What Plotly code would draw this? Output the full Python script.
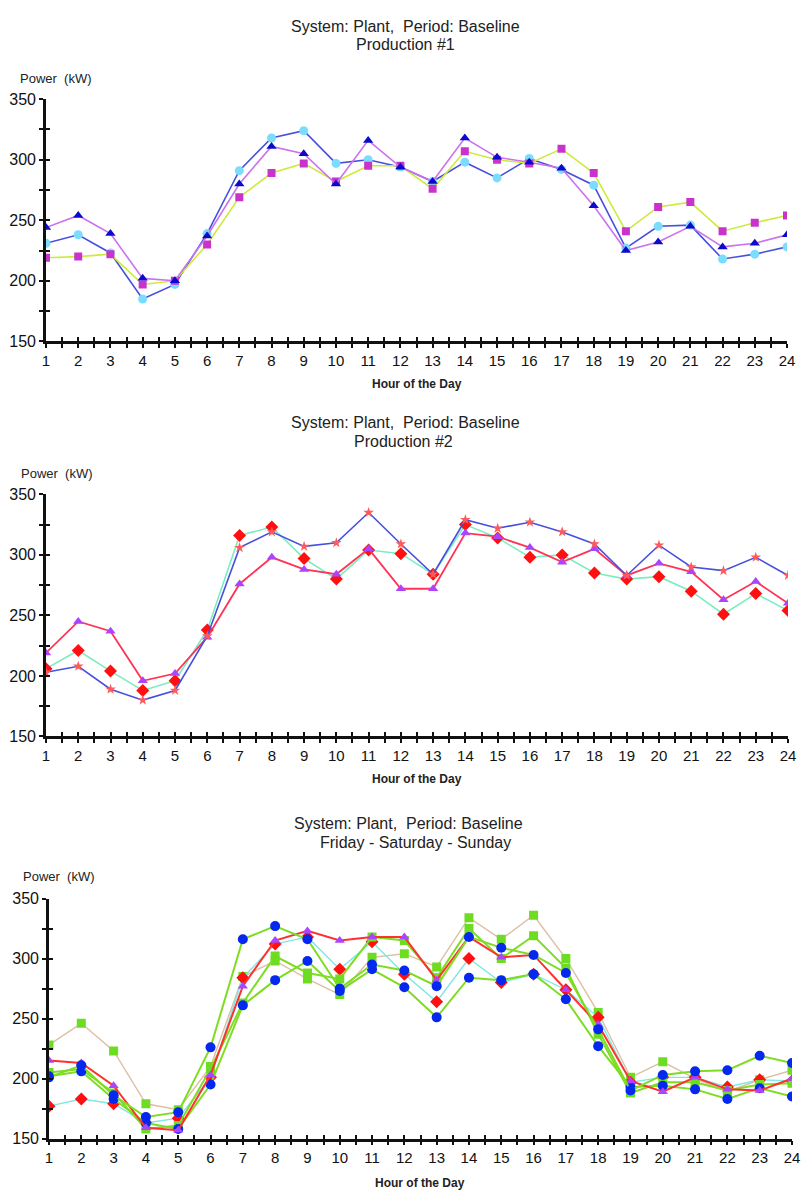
import plotly.graph_objects as go

# ---------------- data ----------------
hours = list(range(1, 25))
hour_labels = [str(h) for h in hours]
y_tick_values = [150, 200, 250, 300, 350]

# Panel 1 : Production #1
p1_triangle = [244, 254, 239, 202, 200, 237, 280, 311, 305, 280, 316, 294,
               282, 318, 302, 298, 293, 262, 225, 232, 245, 228, 231, 238]
p1_square = [219, 220, 222, 197, 200, 230, 269, 289, 297, 282, 295, 295,
             276, 307, 300, 297, 309, 289, 241, 261, 265, 241, 248, 254]
p1_circle = [231, 238, 223, 185, 197, 239, 291, 318, 324, 297, 300, 294,
             282, 298, 285, 301, 292, 279, 227, 245, 246, 218, 222, 228]

# Panel 2 : Production #2
p2_star = [203, 208, 189, 180, 188, 233, 306, 319, 307, 310, 335, 309,
           284, 329, 322, 327, 319, 309, 283, 308, 290, 287, 298, 283]
p2_triangle = [219, 245, 237, 196, 202, 232, 276, 298, 288, 284, 305, 272,
               272, 318, 315, 306, 294, 305, 283, 293, 286, 263, 278, 260]
p2_diamond = [206, 221, 204, 188, 196, 238, 316, 323, 297, 280, 304, 301,
              284, 325, 314, 298, 300, 285, 280, 282, 270, 251, 268, 254]

# Panel 3 : Friday - Saturday - Sunday
p3_square_a = [228, 246, 223, 179, 174, 210, 285, 298, 283, 270, 301, 304,
               293, 334, 316, 336, 300, 255, 201, 214, 200, 189, 199, 207]
p3_square_b = [205, 208, 188, 158, 161, 208, 263, 302, 288, 283, 318, 315,
               284, 325, 300, 319, 292, 237, 188, 197, 197, 190, 195, 196]
p3_circle_a = [201, 211, 186, 168, 172, 226, 316, 327, 316, 275, 295, 290,
               277, 318, 309, 303, 288, 241, 190, 203, 206, 207, 219, 213]
p3_circle_b = [202, 206, 183, 163, 158, 195, 261, 282, 298, 273, 291, 276,
               251, 284, 282, 287, 266, 227, 193, 194, 191, 183, 192, 185]
p3_diamond = [177, 183, 179, 163, 167, 201, 284, 312, 318, 291, 314, 287,
              264, 300, 280, 287, 274, 251, 197, 201, 201, 193, 199, 198]
p3_triangle = [215, 213, 194, 159, 157, 203, 277, 315, 323, 315, 318, 318,
               282, 318, 301, 303, 274, 245, 198, 189, 201, 191, 190, 200]

title_line1 = "System: Plant,  Period: Baseline"
subtitles = ["Production #1", "Production #2", "Friday - Saturday - Sunday"]
y_title = "Power  (kW)"
x_title = "Hour of the Day"

FONT = "Liberation Sans, Arial, sans-serif"

# ---------------- figure ----------------
W, H = 809, 1200
ML, MR = 40, 14
PW = W - ML - MR


def px_x(p):
    return (p - ML) / PW


def adj(p):
    # compensate the vertical placement seen in the rendered page
    return (p - 7.8) / 0.9855


def px_y(p):
    return 1 - adj(p) / H


fig = go.Figure()

panels = [
    dict(x0=46, x1=787, y0=99, y1=341, series=[
        (p1_circle, "circle", "#7ADCFF", 9, "#4650DC", 1.6),
        (p1_square, "square", "#C933CC", 8, "#CCEB3C", 1.6),
        (p1_triangle, "triangle-up", "#0A0ACC", 9, "#CC72EE", 1.6),
    ]),
    dict(x0=46, x1=788, y0=494, y1=736, series=[
        (p2_diamond, "diamond", "#FF1010", 10, "#7AEEC0", 1.6),
        (p2_triangle, "triangle-up", "#AA44FF", 9, "#FF3355", 1.8),
        (p2_star, "star", "#FF5A5A", 8, "#4650DC", 1.6),
    ]),
    dict(x0=49, x1=792, y0=898, y1=1138, series=[
        (p3_square_a, "square", "#6EDD22", 9, "#DCBFA5", 1.4),
        (p3_diamond, "diamond", "#FF1010", 10, "#7EE8E4", 1.4),
        (p3_square_b, "square", "#6EDD22", 9, "#7EDD22", 2.0),
        (p3_circle_b, "circle", "#0528EE", 10, "#7EDD22", 2.0),
        (p3_triangle, "triangle-up", "#AA44FF", 9, "#FF3030", 2.0),
        (p3_circle_a, "circle", "#0528EE", 10, "#7EDD22", 2.0),
    ]),
]

axis_common = dict(showgrid=False, zeroline=False, fixedrange=True)

for i, pan in enumerate(panels, start=1):
    xs = "" if i == 1 else str(i)
    xd = [px_x(pan["x0"]), px_x(pan["x1"])]
    yd = [px_y(pan["y1"]), px_y(pan["y0"])]

    for vals, sym, mcol, msize, lcol, lw in pan["series"]:
        fig.add_trace(go.Scatter(
            x=hours, y=vals, mode="lines+markers",
            xaxis="x" + xs, yaxis="y" + xs,
            line=dict(color=lcol, width=lw),
            marker=dict(symbol=sym, color=mcol, size=msize,
                        line=dict(width=0)),
            showlegend=False, hoverinfo="skip",
        ))

    fig.update_layout(**{
        "xaxis" + xs: dict(
            domain=xd, anchor="y" + xs, range=[1, 24],
            tickmode="array", tickvals=hours, ticktext=hour_labels,
            ticks="outside", ticklen=4, tickwidth=1.6, tickcolor="#111",
            minor=dict(ticks="outside", ticklen=4, tickwidth=1.6,
                       tickcolor="#111", tickmode="linear", tick0=0.5, dtick=1),
            showline=True, linewidth=2.6, linecolor="#111",
            tickfont=dict(family=FONT, size=15, color="#111"),
            **axis_common),
        "yaxis" + xs: dict(
            domain=yd, anchor="x" + xs, range=[150, 350],
            tickmode="array", tickvals=y_tick_values,
            ticks="outside", ticklen=4, tickwidth=1.6, tickcolor="#111",
            minor=dict(ticks="outside", ticklen=4, tickwidth=1.6,
                       tickcolor="#111", tickmode="linear", tick0=175, dtick=50),
            showline=True, linewidth=2.6, linecolor="#111",
            tickfont=dict(family=FONT, size=16, color="#111"),
            ticklabelstandoff=0,
            **axis_common),
    })

    ox = str(i + 3)
    fig.add_trace(go.Scatter(x=[], y=[], xaxis="x" + ox, yaxis="y" + ox,
                             showlegend=False, hoverinfo="skip"))
    fig.update_layout(**{
        "xaxis" + ox: dict(
            overlaying="x" + xs, anchor="y" + xs, side="bottom", range=[1, 24],
            tickmode="linear", tick0=1, dtick=1,
            ticks="inside", ticklen=4, tickwidth=1.6, tickcolor="#111",
            minor=dict(ticks="inside", ticklen=4, tickwidth=1.6,
                       tickcolor="#111", tickmode="linear", tick0=0.5, dtick=1),
            showticklabels=False, showline=False, **axis_common),
        "yaxis" + ox: dict(
            overlaying="y" + xs, anchor="x" + xs, side="left", range=[150, 350],
            tickmode="linear", tick0=150, dtick=25,
            ticks="inside", ticklen=4, tickwidth=1.6, tickcolor="#111",
            showticklabels=False, showline=False, **axis_common),
    })

# ---------------- texts ----------------
text_items = [
    (title_line1, 405, 26, 16, False), (subtitles[0], 405, 44, 16, False),
    (y_title, 56, 78, 13, False), (x_title, 417, 384, 12, True),
    (title_line1, 405, 422, 16, False), (subtitles[1], 403, 441, 16, False),
    (y_title, 57, 473, 13, False), (x_title, 417, 779, 12, True),
    (title_line1, 408, 823, 16, False), (subtitles[2], 415, 842, 16, False),
    (y_title, 59, 876, 13, False), (x_title, 420, 1182, 12, True),
]
annotations = []
for txt, cx, cy, size, bold in text_items:
    annotations.append(dict(
        text=("<b>%s</b>" % txt) if bold else txt,
        x=px_x(cx), y=px_y(cy), xref="paper", yref="paper",
        xanchor="center", yanchor="middle", showarrow=False,
        font=dict(family=FONT, size=size, color="#222"),
    ))

fig.update_layout(
    width=W, height=H,
    margin=dict(l=ML, r=MR, t=0, b=0),
    paper_bgcolor="white", plot_bgcolor="white",
    showlegend=False,
    annotations=annotations,
    font=dict(family=FONT),
)

fig.write_html("out.html")
